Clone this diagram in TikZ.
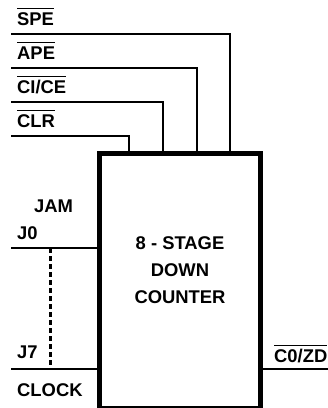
\documentclass[tikz,border=0pt]{standalone}
\usepackage{fontspec}
\setmainfont{Liberation Sans}
\usetikzlibrary{positioning}
\newcommand{\lowbar}[1]{$\overline{\mbox{\rule[0pt]{0pt}{15.5pt}#1}}$}

\begin{document}
\begin{tikzpicture}[x=1pt,y=-1pt,-,
                    main box/.style={rectangle,draw,line width=5pt,minimum width=160.5pt,minimum height=255.2pt,inner sep=0pt},
                    pin text/.style={anchor=base west,inner sep=0pt,font=\fontsize{18.4}{20}\selectfont\bfseries},
                    box text/.style={align=center,inner sep=0pt,font=\fontsize{18.4}{27}\selectfont\bfseries},
                    wire/.style={line width=2.5pt}]

  \useasboundingbox (0,0) rectangle (328,408);

  \node[main box] (box) at (179.75,280.9) {};
  \node[box text] (name) at (180,270) {8 - STAGE\\DOWN\\COUNTER};

  \node[pin text] (spe) at (17,25) {\lowbar{SPE}};
  \node[pin text] (ape) at (17,59) {\lowbar{APE}};
  \node[pin text] (cice) at (17,93) {\lowbar{CI/CE}};
  \node[pin text] (clr) at (17,127) {\lowbar{CLR}};
  \node[pin text] (jam) at (34,212) {JAM};
  \node[pin text] (j0) at (17,239) {J0};
  \node[pin text] (j7) at (17,358) {J7};
  \node[pin text] (clock) at (17,396) {CLOCK};
  \node[pin text] (zd) at (274,362) {\lowbar{C0/ZD}};

  \coordinate (spe in) at (11,34);
  \coordinate (ape in) at (11,68);
  \coordinate (cice in) at (11,102);
  \coordinate (clr in) at (11,136);
  \coordinate (j0 in) at (11,248);
  \coordinate (j7 in) at (11,369);
  \coordinate (zd out) at (328,369);
  \coordinate (spe pin) at (230,153);
  \coordinate (ape pin) at (197,153);
  \coordinate (cice pin) at (163,153);
  \coordinate (clr pin) at (129,153);
  \coordinate (j0 pin) at (99,248);
  \coordinate (j7 pin) at (99,369);
  \coordinate (zd pin) at (260,369);
  \coordinate (dots top) at (50.5,248);
  \coordinate (dots end) at (50.5,369);

  \draw[wire] (spe in) -| (spe pin);
  \draw[wire] (ape in) -| (ape pin);
  \draw[wire] (cice in) -| (cice pin);
  \draw[wire] (clr in) -| (clr pin);
  \draw[wire] (j0 in) -- (j0 pin);
  \draw[wire] (j7 in) -- (j7 pin);
  \draw[wire] (zd pin) -- (zd out);
  \draw[wire,dash pattern=on 4.5pt off 3.5pt] (dots top) -- (dots end);

\end{tikzpicture}
\end{document}
